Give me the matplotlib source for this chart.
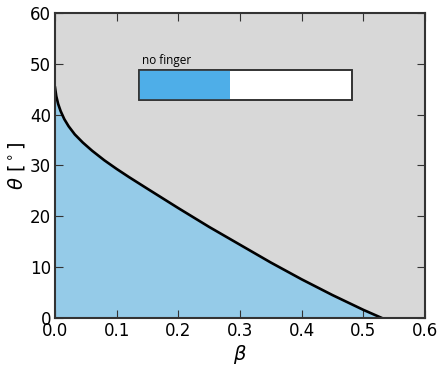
import matplotlib
matplotlib.use("Agg")
import matplotlib.pyplot as plt
from matplotlib.patches import Rectangle
import numpy as np

# boundary between finger / no-finger regions
BETA = [0.0, 0.002, 0.005, 0.009, 0.015, 0.022, 0.032, 0.045, 0.06,
        0.08, 0.1, 0.12, 0.15, 0.2, 0.25, 0.3, 0.35, 0.4, 0.45, 0.5, 0.53]
THETA = [45.3, 43.6, 42.1, 40.7, 39.1, 37.7, 36.1, 34.5, 32.9,
         31.0, 29.3, 27.7, 25.4, 21.6, 17.9, 14.4, 10.9, 7.6, 4.5, 1.6, 0.0]
LEGEND_LABEL = "no finger"

GRAY = "#d8d8d8"
FILL_BLUE = "#95cbe8"
KEY_BLUE = "#4eaee8"


def main() -> None:
    fig = plt.figure(figsize=(4.44, 3.68), dpi=100)
    ax = fig.add_axes([0.124, 0.136, 0.833, 0.829])
    ax.set_facecolor(GRAY)

    beta = np.array(BETA)
    theta = np.array(THETA)
    ax.fill_between(beta, 0, theta, color=FILL_BLUE, lw=0)
    ax.plot(beta, theta, color="black", lw=1.9, solid_joinstyle="round")

    ax.set_xlim(0, 0.6)
    ax.set_ylim(0, 60)
    ax.set_xticks(np.arange(0, 0.61, 0.1))
    ax.set_yticks(np.arange(0, 61, 10))
    ax.set_xticklabels([f"{v:.1f}" for v in np.arange(0, 0.61, 0.1)])
    ax.tick_params(direction="in", top=True, right=True, length=6,
                   labelsize=12, pad=3, colors="#333333", labelcolor="black")
    for s in ax.spines.values():
        s.set_color("#333333")
        s.set_linewidth(1.5)

    ax.set_xlabel(r"$\beta$", fontsize=14, labelpad=2)
    ax.set_ylabel(r"$\theta$ [$^\circ$]", fontsize=14, labelpad=2)

    # legend key: labelled bar, half filled
    x0, y0, w, h = 0.227, 0.716, 0.575, 0.098
    ax.add_patch(Rectangle((x0, y0), w, h, transform=ax.transAxes,
                           facecolor="white", edgecolor="#333333", lw=1.2,
                           zorder=5))
    ax.add_patch(Rectangle((x0, y0), w * 0.43, h, transform=ax.transAxes,
                           facecolor=KEY_BLUE, edgecolor="none", zorder=6))
    ax.add_patch(Rectangle((x0, y0), w, h, transform=ax.transAxes,
                           facecolor="none", edgecolor="#333333", lw=1.2,
                           zorder=7))
    ax.text(x0 + 0.008, y0 + h + 0.01, LEGEND_LABEL, transform=ax.transAxes,
            fontsize=8.5, family="Open Sans", va="bottom", ha="left", zorder=8)

    fig.savefig("out.png", dpi=100)


if __name__ == "__main__":
    main()
